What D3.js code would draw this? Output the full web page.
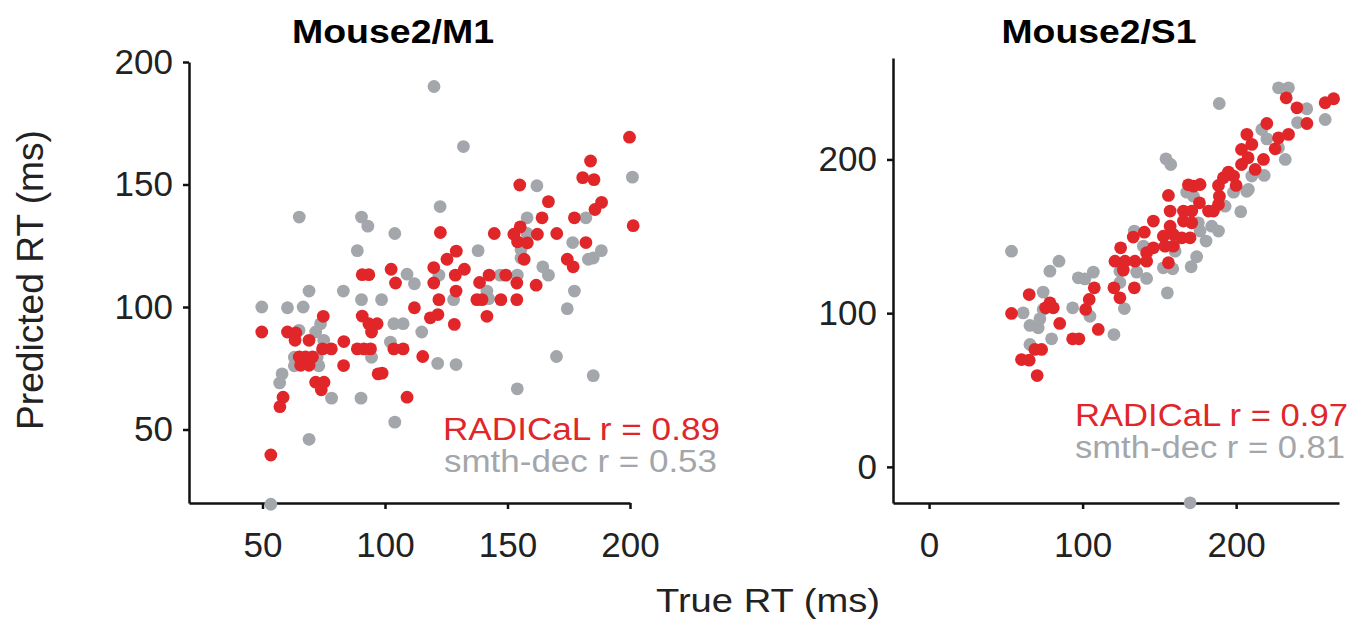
<!DOCTYPE html>
<html>
<head>
<meta charset="utf-8">
<script src="https://cdn.jsdelivr.net/npm/d3@7"></script>
<style>
  body { margin: 0; background: #fff; }
  svg { display: block; font-family: "Liberation Sans", Arial, sans-serif; }
</style>
</head>
<body>
<script>
// Mouse2/M1 : [true RT, predicted RT]
var m1Smth = [[120,190],[132,165.5],[201,153],[162,149.5],[122.5,141],[65,136.7],[90.4,136.7],[93,133],[104,130],
  [158,136.4],[182,136.4],[88.7,123],[138,123],[176.6,126.3],[188.3,123],[185,120],[183,119.5],[158,130],[155.5,123.5],
  [155.5,120],[109,113.4],[112,109.5],[122,113],[147,113],[154,113],[164.4,116.4],[166.7,113],[69,106.5],[83,106.5],
  [90.4,103],[98.6,103],[128,103],[141.6,106.5],[142.3,103.4],[177.3,106.5],[49.7,100],[60.2,99.7],[66.6,100],
  [174.4,99.3],[103.6,93.2],[107.4,93.2],[115,89.8],[73.7,93.2],[71.7,89.8],[75,86.4],[64.9,90.5],[63,79.5],[63,76],
  [72.3,79.5],[73,76],[102.2,85.7],[94.5,79.5],[58,72.7],[57,69],[121.5,77],[129,76.5],[170,79.8],[185,72],
  [78.2,62.8],[90.2,62.8],[154,66.6],[104,53],[69,46],[53.4,19.5]];
var m1Radical = [[199.8,169.3],[183.9,159.6],[180.7,152.8],[185.3,152],[155,149.8],[166.7,143],[188.4,142.7],
  [185.7,139.8],[164.1,136.4],[177.3,136.4],[201.3,133.2],[122.6,130.4],[144.6,130],[152.6,129.7],[155.2,132.7],
  [154.1,126.6],[158.1,126.2],[156.8,119.5],[162.2,129.7],[170.1,130],[182,126.3],[129.1,122.8],[125.3,119.5],
  [174.4,119.5],[176.8,116.4],[90.7,113.2],[93.4,113.2],[102.5,115.4],[104.3,109.8],[119.9,116.1],[132.4,115.4],
  [128.7,113],[119.9,109.8],[129,106.5],[138.6,110],[142.5,113],[149.3,113],[153.8,109.8],[161.7,108.9],[122,103],
  [137.5,103],[139.6,103],[147.3,103],[153.8,103],[112,99.7],[118.5,95.6],[121.6,96.9],[128.3,92.9],[141.6,96.2],
  [74.8,96.2],[49.7,89.8],[60.2,89.8],[63.6,89.4],[63.3,86.4],[69,86.4],[83.2,85.9],[90.7,96.3],[93.4,93.2],
  [96.8,93.2],[94.5,89.8],[74.5,82.9],[78.1,82.9],[88.7,82.9],[91.4,82.9],[94.1,82.9],[103.6,82.9],[107.4,82.9],
  [115.4,79.8],[65,79.6],[67.6,79.6],[70.4,79.6],[65.6,76.2],[69,76.2],[83.1,76.1],[97.2,72.7],[98.8,73],
  [71.7,69.3],[75.1,69.3],[74,66.2],[109,63.2],[58.4,63.2],[57.1,59.3],[53.4,39.6]];

// Mouse2/S1 : [true RT, predicted RT]
var s1Smth = [[227.6,246.6],[234.1,246.6],[189,236.4],[246,233],[240,224],[258,226],[216.7,219.5],[220,213.4],
  [232,200],[154.3,200.4],[157.4,196.7],[227.6,207.6],[210.2,189.2],[218.3,189.6],[208,180.5],[198.3,178.7],
  [206.9,179.3],[167.8,178.7],[172.2,176.1],[192.8,169.6],[203,166],[184.1,156.6],[188.5,153.4],[175.4,158.8],
  [176.5,153.4],[180.4,146.9],[133.7,153.4],[139.6,143.6],[160.2,140.3],[174.3,136.7],[170.7,130.2],[152.6,129.5],
  [158.7,128.9],[141.7,122.6],[124.3,127.3],[135.2,126.7],[124.3,120],[155.2,113.2],[127.2,103],[120.4,86.1],
  [107,126.7],[97.2,123],[101.5,122.3],[93.5,103.5],[104.8,98],[84.6,133.8],[78.7,127.3],[74.3,113.7],[53.7,140.3],
  [61.3,100.2],[65.7,92],[71.1,90.5],[72.2,96.3],[74.3,102.4],[79.8,83.3],[65.7,79.6],[170,-23.4]];
var s1Radical = [[263.5,239.5],[258,236.9],[232.6,240.1],[239.6,233.6],[246.1,223.4],[220,223.4],[207,216.3],
  [227.6,214.1],[234.1,216.3],[225.4,206.9],[203.5,206.5],[210.2,209.8],[207.8,201.1],[203.5,196.7],[217.8,200],
  [212.4,193.5],[195,191.8],[191.7,188.1],[198.3,189.2],[188.5,183.1],[200,183.1],[168.9,183.5],[176.5,183.7],
  [172.2,182.6],[155.9,176.6],[189.1,176.1],[188.5,170.7],[176.1,171.8],[182,166.4],[185.2,166.4],[157,166.4],
  [165.7,166.4],[171.1,166.4],[165.7,159.9],[171.1,158.8],[146.1,159.9],[157,156.6],[152.6,150.1],[159.1,151.2],
  [164.6,149],[170,149],[140.2,152.7],[133,149.5],[153.7,143.6],[159.1,143.6],[146.1,142.5],[141.7,139.3],
  [124.8,142.5],[121.1,133.8],[127.6,133.8],[134.1,133.8],[141.7,133.8],[126.5,128],[155.9,132.8],[107.6,116.5],
  [120.4,116.5],[133.7,116.5],[104.3,108.9],[124.3,110],[102,102.4],[110.2,89.4],[65.2,112.1],[78.7,106.7],
  [75.9,103.5],[80.9,103.5],[53.7,99.8],[85.1,93.3],[93.5,83.3],[97.6,83.3],[68.9,76.4],[73.3,76.4],[60.2,69.8],
  [65.2,69.4],[70.4,59.4]];

var m1Ticks = [50, 100, 150, 200],
    s1Ticks = [0, 100, 200];
var titles = ["Mouse2/M1", "Mouse2/S1"],
    rText = [["RADICaL r = 0.89", "smth-dec r = 0.53"], ["RADICaL r = 0.97", "smth-dec r = 0.81"]];

var red = "#e1262a", grey = "#a3a6aa";

var svg = d3.select("body").append("svg")
    .attr("width", 1368).attr("height", 629);

// the source figure is a little wider than its fonts, so text gets stretched with textLength
var panels = [
  { title: titles[0], smth: m1Smth, radical: m1Radical, ticks: m1Ticks, r: rText[0],
    x: d3.scaleLinear().domain([20, 200]).range([189, 630]),
    y: d3.scaleLinear().domain([20, 200]).range([503, 62]),
    titleX: 393, titleW: 202, textX: 720, textY: 440, textW: [277, 273] },
  { title: titles[1], smth: s1Smth, radical: s1Radical, ticks: s1Ticks, r: rText[1],
    x: d3.scaleLinear().domain([-23.5, 267]).range([893, 1339]),
    y: d3.scaleLinear().domain([-23.5, 266]).range([503, 58]),
    titleX: 1099, titleW: 195, textX: 1348, textY: 426, textW: [273, 270] }
];

panels.forEach(function(p) {
  var g = svg.append("g");
  var x0 = p.x.range()[0], yb = p.y.range()[0];

  g.append("g").classed("axisGroup", true)
      .attr("transform", "translate(0," + yb + ")")
      .call(d3.axisBottom(p.x).tickValues(p.ticks).tickSize(6).tickSizeOuter(0).tickPadding(23));
  g.append("g").classed("axisGroup", true)
      .attr("transform", "translate(" + x0 + ",0)")
      .call(d3.axisLeft(p.y).tickValues(p.ticks).tickSize(6).tickSizeOuter(0).tickPadding(10));

  g.append("text")
      .attr("x", p.titleX - p.titleW / 2).attr("y", 43)
      .attr("textLength", p.titleW).attr("lengthAdjust", "spacingAndGlyphs")
      .style("font-size", "34px").style("font-weight", "bold")
      .text(p.title);

  g.selectAll("circle.smth")
      .data(p.smth).enter().append("circle")
      .attr("class", "smth")
      .attr("r", 6.4)
      .attr("cx", d => p.x(d[0]))
      .attr("cy", d => p.y(d[1]))
      .attr("fill", grey);
  g.selectAll("circle.radical")
      .data(p.radical).enter().append("circle")
      .attr("class", "radical")
      .attr("r", 6.4)
      .attr("cx", d => p.x(d[0]))
      .attr("cy", d => p.y(d[1]))
      .attr("fill", red);

  g.append("text")
      .attr("x", p.textX - p.textW[0]).attr("y", p.textY)
      .attr("textLength", p.textW[0]).attr("lengthAdjust", "spacingAndGlyphs")
      .attr("fill", red)
      .style("font-size", "31px")
      .text(p.r[0]);
  g.append("text")
      .attr("x", p.textX - 3 - p.textW[1]).attr("y", p.textY + 32)
      .attr("textLength", p.textW[1]).attr("lengthAdjust", "spacingAndGlyphs")
      .attr("fill", grey)
      .style("font-size", "31px")
      .text(p.r[1]);
});

svg.selectAll(".axisGroup .domain").style("stroke", "#111").style("stroke-width", 2.5);
svg.selectAll(".axisGroup .tick line").style("stroke", "#111").style("stroke-width", 2.5);
svg.selectAll(".axisGroup .tick text")
    .style("font-size", "35px").style("font-family", "'Liberation Sans', Arial, sans-serif").attr("fill", "#222");

svg.append("text")
    .attr("transform", "translate(43,430) rotate(-90)")
    .attr("textLength", 300).attr("lengthAdjust", "spacingAndGlyphs")
    .style("font-size", "36px").attr("fill", "#222")
    .text("Predicted RT (ms)");
svg.append("text")
    .attr("x", 656).attr("y", 612)
    .attr("textLength", 224).attr("lengthAdjust", "spacingAndGlyphs")
    .style("font-size", "34px").attr("fill", "#222")
    .text("True RT (ms)");
</script>
</body>
</html>
